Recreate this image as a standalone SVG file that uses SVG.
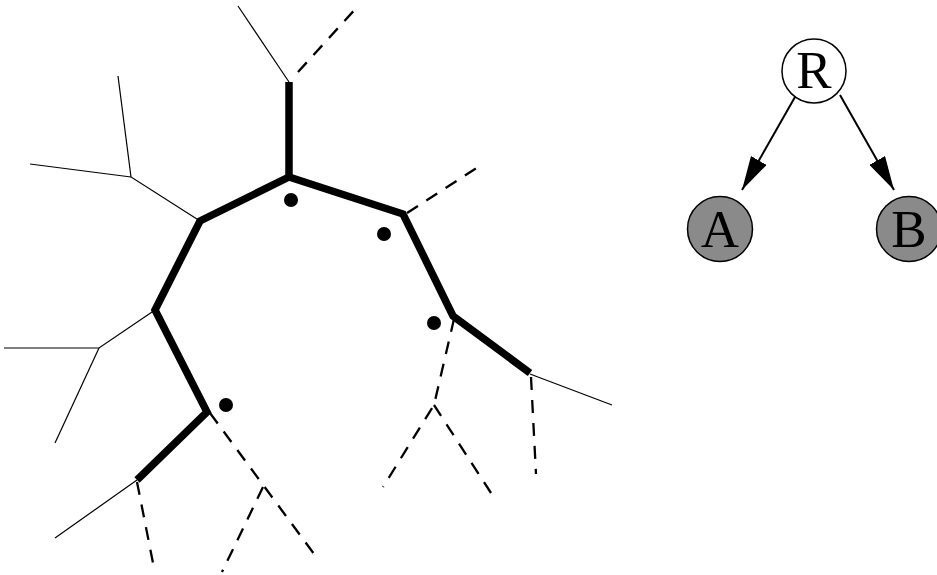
<svg xmlns="http://www.w3.org/2000/svg" width="937" height="575" viewBox="0 0 937 575">
<style>
.thick{fill:none;stroke:#000;stroke-width:7.5;stroke-linejoin:miter;stroke-linecap:butt}
.thin{fill:none;stroke:#000;stroke-width:1.2}
.dash{fill:none;stroke:#000;stroke-width:2.3;stroke-dasharray:13 10}
.dot{fill:#000}
.edge{fill:none;stroke:#000;stroke-width:2}
.node circle{stroke:#000;stroke-width:1.5}
.node text{font-family:"Liberation Serif","Times New Roman",serif;font-size:53px;text-anchor:middle;fill:#000}
</style>
<defs>
<marker id="arr" viewBox="0 0 34 18" refX="34" refY="9" markerWidth="34" markerHeight="18" markerUnits="userSpaceOnUse" orient="auto">
<path d="M0,0 L34,9 L0,18 Z" fill="#000"/>
</marker>
</defs>
<rect width="937" height="575" fill="#fff"/>
<g id="tree-drawing">
<g id="thin-lines">
<line class="thin" x1="238" y1="6" x2="289" y2="82"/>
<polyline class="thin" points="200,221 131,177 118,76"/>
<line class="thin" x1="131" y1="177" x2="30" y2="164"/>
<polyline class="thin" points="155,310 99,348 4,348"/>
<line class="thin" x1="99" y1="348" x2="55" y2="443"/>
<line class="thin" x1="137" y1="480" x2="55" y2="538"/>
<line class="thin" x1="530" y1="374" x2="612" y2="405"/>
</g>
<g id="dashed-lines">
<line class="dash" x1="298" y1="72" x2="359" y2="5"/>
<line class="dash" x1="407" y1="213" x2="478" y2="167"/>
<line class="dash" x1="137" y1="482" x2="154" y2="568"/>
<line class="dash" x1="210" y1="413" x2="317" y2="558"/>
<line class="dash" x1="263" y1="487" x2="222" y2="572"/>
<polyline class="dash" points="454,319 434,405 383,487"/>
<line class="dash" x1="434" y1="405" x2="491" y2="493"/>
<line class="dash" x1="531" y1="377" x2="536" y2="474"/>
</g>
<g id="thick-path">
<polyline class="thick" points="137,480 207,412 155,310 200,221 289,177 403,214 453,316 530,373"/>
<line class="thick" x1="289" y1="177" x2="289" y2="82"/>
</g>
<g id="dots">
<circle class="dot" cx="291" cy="200" r="7"/>
<circle class="dot" cx="384" cy="234" r="7"/>
<circle class="dot" cx="434" cy="323" r="7"/>
<circle class="dot" cx="226" cy="405" r="7"/>
</g>
</g>
<g id="connectors">
<line class="edge" x1="795" y1="97" x2="742" y2="190" marker-end="url(#arr)"/>
<line class="edge" x1="840" y1="95" x2="894" y2="190" marker-end="url(#arr)"/>
</g>
<g id="node-R" class="node">
<circle cx="814" cy="71" r="32" fill="#fff"/>
<text x="814" y="88">R</text>
</g>
<g id="node-A" class="node">
<circle cx="720" cy="229" r="32.5" fill="#8a8a8a"/>
<text x="720" y="247">A</text>
</g>
<g id="node-B" class="node">
<circle cx="909" cy="229" r="32.5" fill="#8a8a8a"/>
<text x="909" y="247">B</text>
</g>
</svg>
